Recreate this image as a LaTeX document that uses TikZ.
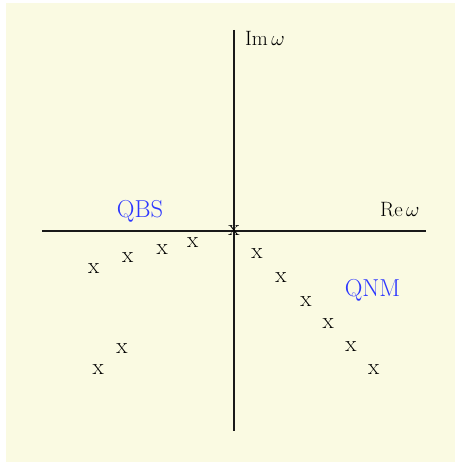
\documentclass[tikz,border=0pt]{standalone}
\definecolor{bgyellow}{RGB}{250,250,226}
\definecolor{lblblue}{RGB}{45,55,255}
\begin{document}
\begin{tikzpicture}[x=1pt,y=-1pt,
  axis/.style={line width=2pt,black!90},
  pole/.style={inner sep=0pt,font=\fontsize{23}{23}\selectfont},
  axlabel/.style={inner sep=0pt,anchor=base west,font=\fontsize{20}{20}\selectfont},
  region/.style={inner sep=0pt,anchor=base,text=lblblue,font=\fontsize{24.5}{24.5}\selectfont}]
\useasboundingbox (0,0) rectangle (455,462);
\fill[bgyellow] (6,3) rectangle (455,462);
% axes
\coordinate (xl) at (42,230.5);
\coordinate (xr) at (426,230.5);
\coordinate (yt) at (234,30);
\coordinate (yb) at (234,431);
\draw[axis] (xl) -- (xr);
\draw[axis] (yt) -- (yb);
% labels
\node[axlabel] (im) at (245,46) {$\mathrm{Im}\,\omega$};
\node[axlabel] (re) at (380,216) {$\mathrm{Re}\,\omega$};
\node[region] (qbs) at (140,217) {QBS};
\node[region] (qnm) at (372.5,296) {QNM};
% poles
\node[pole] (p0) at (234,230.7) {x};
\node[pole] (b1) at (192.7,242.7) {x};
\node[pole] (b2) at (162.3,250) {x};
\node[pole] (b3) at (127.7,257.3) {x};
\node[pole] (b4) at (93.7,268.3) {x};
\node[pole] (b5) at (122,348.7) {x};
\node[pole] (b6) at (98.3,370) {x};
\node[pole] (q1) at (257,253.3) {x};
\node[pole] (q2) at (281,277.7) {x};
\node[pole] (q3) at (306,301.7) {x};
\node[pole] (q4) at (328.3,323.3) {x};
\node[pole] (q5) at (351,346.7) {x};
\node[pole] (q6) at (373.7,369.3) {x};
\end{tikzpicture}
\end{document}
